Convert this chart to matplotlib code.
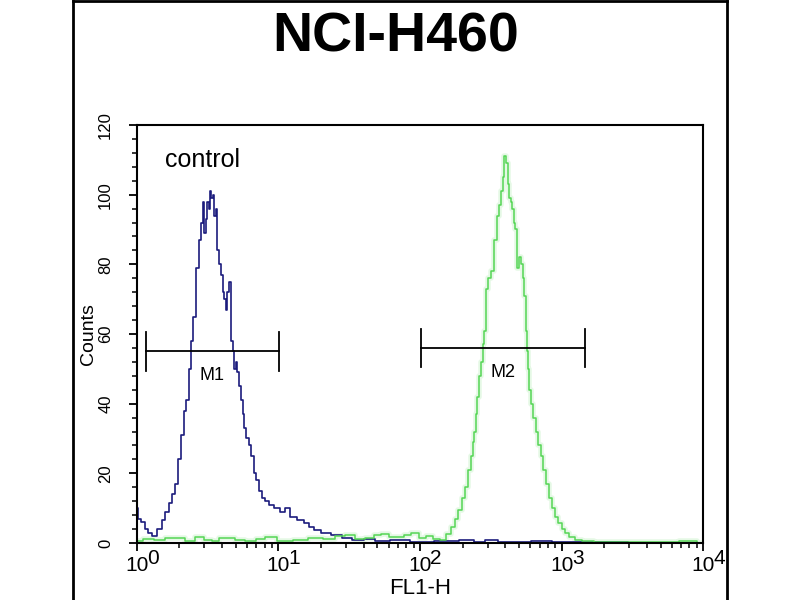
import numpy as np
import matplotlib
matplotlib.use('Agg')
import matplotlib.pyplot as plt
import matplotlib.transforms as mtransforms
from matplotlib.lines import Line2D
from matplotlib.ticker import MultipleLocator, LogLocator, NullFormatter

plt.rcParams['font.family'] = ['Liberation Sans', 'DejaVu Sans']

# control histogram (FL1-H value, counts)
kontrole_x = [1.00, 1.05, 1.10, 1.17, 1.24, 1.34, 1.45, 1.55, 1.63, 1.72, 1.80, 1.90,
              2.01, 2.10, 2.18, 2.29, 2.37, 2.45, 2.57, 2.70, 2.80, 2.88, 2.95, 3.02,
              3.10, 3.17, 3.25, 3.33, 3.39, 3.47, 3.56, 3.65, 3.74, 3.85, 3.99, 4.10,
              4.19, 4.30, 4.40, 4.54, 4.69, 4.80, 4.93, 5.05, 5.17, 5.35, 5.52, 5.65,
              5.80, 6.05, 6.29, 6.55, 6.82, 7.10, 7.40, 7.85, 8.29, 9.00, 9.75, 10.8,
              11.6, 12.7, 14.2, 15.9, 17.2, 18.7, 21.5, 25.9, 30.0, 35.9, 44.0, 52.0,
              70.0, 100, 150, 225, 260, 312, 400, 509, 700, 1000, 1865, 4000, 9500]
kontrole_y = [10, 7, 6, 4, 3, 2, 4, 6.6, 9, 11.5, 14, 17,
              24, 31, 38, 41, 50, 58, 65, 79, 87, 92, 98, 89,
              93, 98, 96, 101, 99, 100, 94, 96, 84, 80, 77, 72,
              70, 67, 72, 75, 58, 55, 50, 52, 49, 45, 41, 37,
              33, 30, 28, 25, 20, 18, 15, 13, 12, 11, 10, 9,
              10, 7.5, 6.5, 5.7, 4.6, 3.7, 3.0, 2.3, 1.5, 0.9, 1.2, 0.5,
              0.8, 0.3, 0.6, 1.0, 0.4, 0.8, 0.3, 0.3, 0.5, 0.2, 0.2, 0.1, 0]

# stained sample histogram
meginys_x = [1.00, 1.20, 1.45, 1.70, 2.00, 2.37, 2.79, 3.20, 3.56, 4.00, 4.54, 5.40,
             6.29, 7.50, 8.70, 11.0, 14.2, 18.0, 23.0, 27.0, 32.0, 38.0, 44.0, 50.0,
             56.0, 64.0, 72.0, 82.0, 92.0, 104, 117, 131, 146, 160, 171, 182,
             192, 204, 215, 225, 233, 239, 245, 251, 257, 266, 274, 281,
             288, 297, 310, 323, 339, 356, 368, 380, 390, 399, 412, 422,
             433, 444, 454, 466, 477, 493, 510, 526, 540, 552, 561, 570,
             580, 600, 619, 645, 671, 700, 728, 760, 790, 830, 871, 920,
             975, 1030, 1094, 1180, 1288, 1500, 1871, 3000, 5000, 8500, 9500]
meginys_y = [0.5, 1.2, 0.8, 1.5, 1.5, 0.5, 1.8, 1.0, 0.6, 1.4, 1.5, 0.8,
             0.5, 1.2, 1.6, 0.7, 0.8, 1.3, 1.2, 2.0, 2.2, 1.2, 1.5, 2.4,
             2.5, 1.6, 1.8, 2.2, 3.0, 1.5, 2.0, 1.2, 1.0, 2.5, 4.6, 7.0,
             9.5, 13, 16, 21, 25, 29, 32, 37, 42, 48, 52, 57,
             61, 73, 76, 78, 87, 94, 97, 101, 105, 111, 109, 103,
             99, 98, 96, 92, 90, 79, 82, 80, 76, 71, 61, 55,
             50, 44, 40, 36, 32, 28, 25, 21, 17, 13, 10, 7.5,
             5.7, 4.0, 2.9, 1.8, 1.0, 0.5, 0.3, 0.2, 0.3, 0.5, 0]

# markers: (left, right, counts level, label)
markeriai = [(1.16, 10.1, 55, 'M1'), (102, 1466, 56, 'M2')]

dekados = [0, 1, 2, 3, 4]

melyna = '#1b1b7d'
zalia = '#55d655'

fig = plt.figure(figsize=(8, 6), dpi=100)
ax = fig.add_axes([0.171, 0.095, 0.708, 0.6967])

# soft glow under the green trace, like the scanned original
ax.step(meginys_x, meginys_y, where='mid', color=zalia, lw=4, alpha=0.15)
ax.step(kontrole_x, kontrole_y, where='mid', color=melyna, lw=1.2)
ax.step(meginys_x, meginys_y, where='mid', color=zalia, lw=1.1)

for kaire, desine, lygis, vardas in markeriai:
    ax.plot([kaire, desine], [lygis, lygis], color='black', lw=1.3)
    ax.plot([kaire, kaire], [lygis - 5.5, lygis + 5.5], color='black', lw=1.3)
    ax.plot([desine, desine], [lygis - 5.5, lygis + 5.5], color='black', lw=1.3)
    centras = np.sqrt(kaire * desine)
    ax.text(centras, lygis - 7, vardas, ha='center', va='center', fontsize=13)

ax.text(1.58, 110, 'control', ha='left', va='center', fontsize=18)

ax.set_xscale('log')
ax.set_xlim(1, 1e4)
ax.set_ylim(0, 120)
ax.xaxis.set_major_locator(LogLocator(base=10))
ax.xaxis.set_minor_locator(LogLocator(base=10, subs=np.arange(2, 10)))
ax.xaxis.set_major_formatter(NullFormatter())
ax.xaxis.set_minor_formatter(NullFormatter())
ax.yaxis.set_major_locator(MultipleLocator(20))
ax.yaxis.set_minor_locator(MultipleLocator(4))

ax.tick_params(axis='both', which='major', direction='out', length=6, width=1.3)
ax.tick_params(axis='both', which='minor', direction='out', length=3.6, width=1.1)
ax.tick_params(axis='y', labelsize=12, pad=11)
for lbl in ax.get_yticklabels():
    lbl.set_rotation(90)
    lbl.set_va('center')

# decade labels "10" with a large exponent, as on the cytometer printout
trans = mtransforms.blended_transform_factory(ax.transData, ax.transAxes)
for d in dekados:
    t1 = trans + mtransforms.ScaledTranslation(0, -9.5 / 72, fig.dpi_scale_trans)
    ax.text(10 ** d, 0, '10', transform=t1, ha='center', va='top', fontsize=15)
    t2 = trans + mtransforms.ScaledTranslation(7.5 / 72, -4.5 / 72, fig.dpi_scale_trans)
    ax.text(10 ** d, 0, str(d), transform=t2, ha='left', va='top', fontsize=15)

for sp in ax.spines.values():
    sp.set_linewidth(1.5)

ax.set_xlabel('FL1-H', fontsize=16, labelpad=15.5)
ax.set_ylabel('Counts', fontsize=14, labelpad=1)

fig.text(0.494, 1 - 52 / 600, 'NCI-H460', ha='center', va='baseline', fontsize=40, fontweight='bold')

# outer frame of the original figure
fig.add_artist(Line2D([0.091, 0.091], [0, 0.998], color='black', lw=2, transform=fig.transFigure))
fig.add_artist(Line2D([0.909, 0.909], [0, 0.998], color='black', lw=2, transform=fig.transFigure))
fig.add_artist(Line2D([0.091, 0.909], [0.998, 0.998], color='black', lw=2, transform=fig.transFigure))

fig.savefig('out.png', dpi=100)
